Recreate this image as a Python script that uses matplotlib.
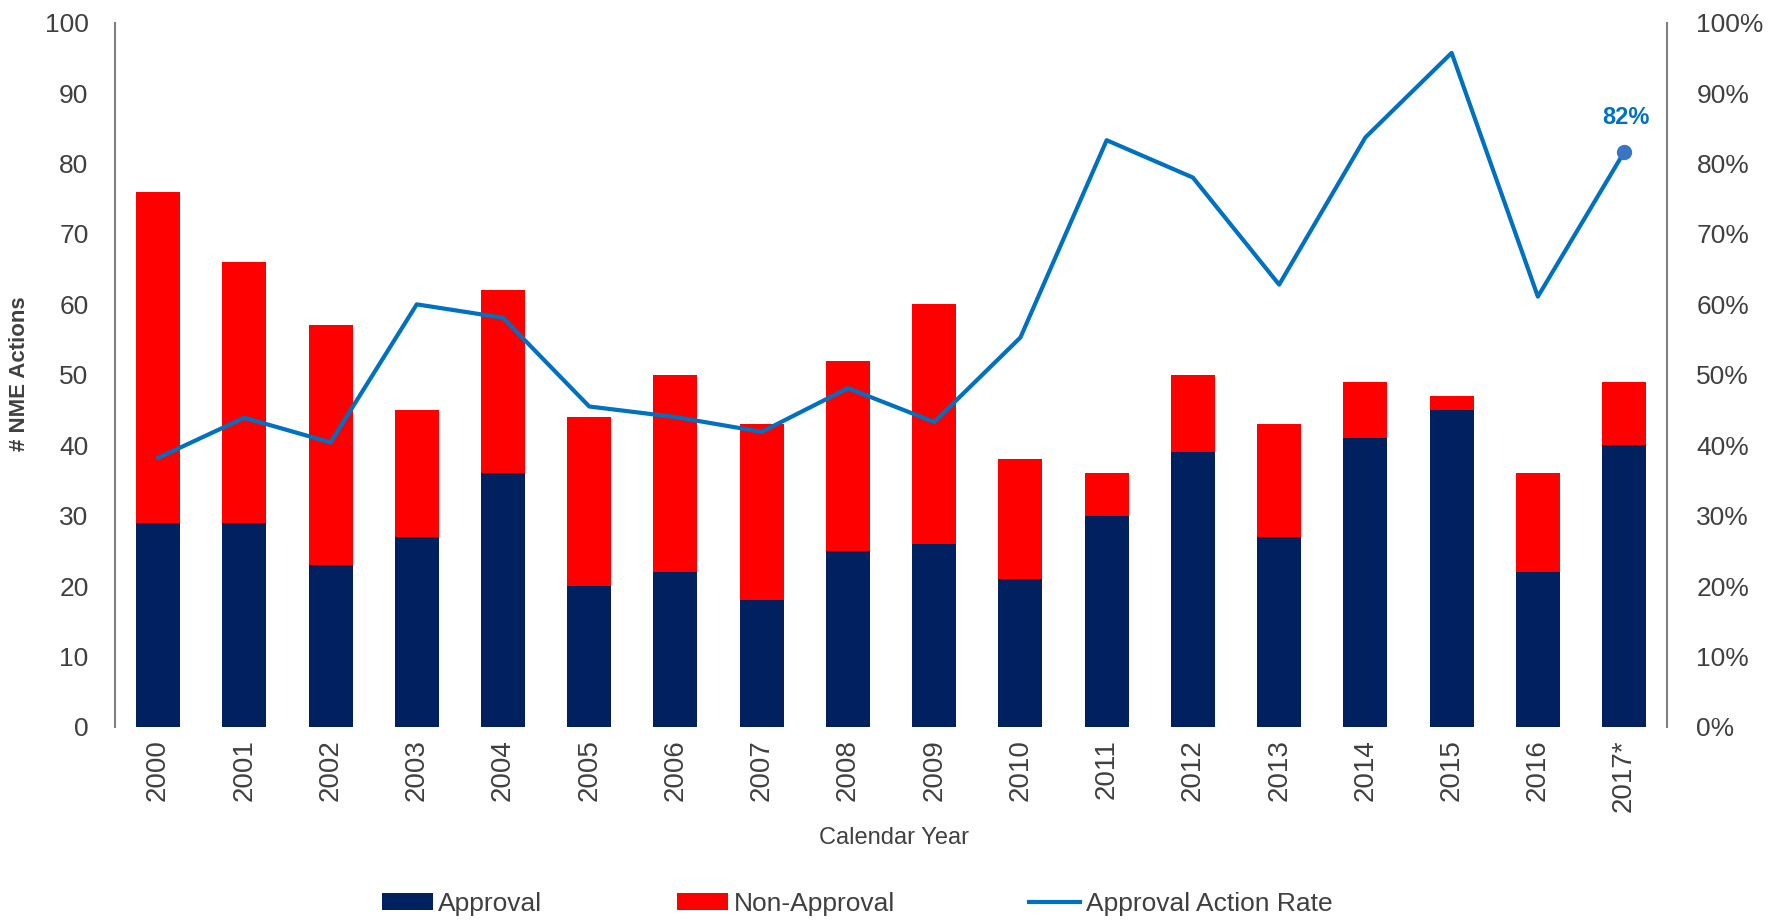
import matplotlib
matplotlib.use("Agg")
import matplotlib.pyplot as plt
from matplotlib.ticker import FuncFormatter

plt.rcParams['font.family'] = ['Liberation Sans', 'DejaVu Sans']

years = ['2000', '2001', '2002', '2003', '2004', '2005', '2006', '2007', '2008',
         '2009', '2010', '2011', '2012', '2013', '2014', '2015', '2016', '2017*']
approval = [29, 29, 23, 27, 36, 20, 22, 18, 25, 26, 21, 30, 39, 27, 41, 45, 22, 40]
non_approval = [47, 37, 34, 18, 26, 24, 28, 25, 27, 34, 17, 6, 11, 16, 8, 2, 14, 9]
rate = [38.2, 43.9, 40.4, 60.0, 58.1, 45.5, 44.0, 41.9, 48.1, 43.3, 55.3, 83.3,
        78.0, 62.8, 83.7, 95.7, 61.1, 81.6]

navy = '#002060'
red = '#FF0000'
blue = '#0070C0'
txt = '#404040'

fig = plt.figure(figsize=(17.68, 9.22), dpi=100)
ax = fig.add_axes([0.065, 0.2115, 0.878, 0.764])
x = list(range(len(years)))

b1 = ax.bar(x, approval, width=0.51, color=navy, label='Approval')
b2 = ax.bar(x, non_approval, width=0.51, bottom=approval, color=red, label='Non-Approval')

ax.set_xlim(-0.5, len(years) - 0.5)
ax.set_ylim(0, 100)
ax.set_yticks(range(0, 101, 10))
ax.set_xticks(x)
ax.set_xticklabels(years, rotation=90, fontsize=20, color=txt)
ax.tick_params(axis='y', labelsize=19, colors=txt, length=0, pad=19)
ax.tick_params(axis='x', length=0, pad=9)
for s in ['top', 'bottom', 'right']:
    ax.spines[s].set_visible(False)
ax.spines['left'].set_color('#808080')
ax.spines['left'].set_linewidth(1.5)

fig.text(20 / 1768, 1 - 374 / 922, '# NME Actions', rotation=90, ha='center', va='center',
         fontsize=16, fontweight='bold', color=txt)
fig.text(894 / 1768, 1 - 838 / 922, 'Calendar Year', ha='center', va='center',
         fontsize=17, color=txt)

ax2 = ax.twinx()
ln, = ax2.plot(x, rate, color=blue, lw=3, label='Approval Action Rate')
ax2.plot(x[-1], rate[-1], 'o', color='#3A75C4', ms=10)
ax2.annotate('82%', (x[-1], rate[-1]), xytext=(1, 25), textcoords='offset points',
             ha='center', va='center', fontsize=17, fontweight='bold', color=blue)
ax2.set_ylim(0, 100)
ax2.set_yticks(range(0, 101, 10))
ax2.yaxis.set_major_formatter(FuncFormatter(lambda v, p: f'{int(v)}%'))
ax2.tick_params(axis='y', labelsize=19, colors=txt, length=0, pad=21)
for s in ['top', 'bottom', 'left']:
    ax2.spines[s].set_visible(False)
ax2.spines['right'].set_color('#808080')
ax2.spines['right'].set_linewidth(1.5)

fig.legend(handles=[b1, b2, ln], loc='center', bbox_to_anchor=(0.4848, 0.02), ncol=3,
           frameon=False, fontsize=19, handlelength=1.93, handleheight=0.64,
           handletextpad=0.21, columnspacing=5.1, labelcolor=txt)

fig.savefig('out.png', dpi=100)
